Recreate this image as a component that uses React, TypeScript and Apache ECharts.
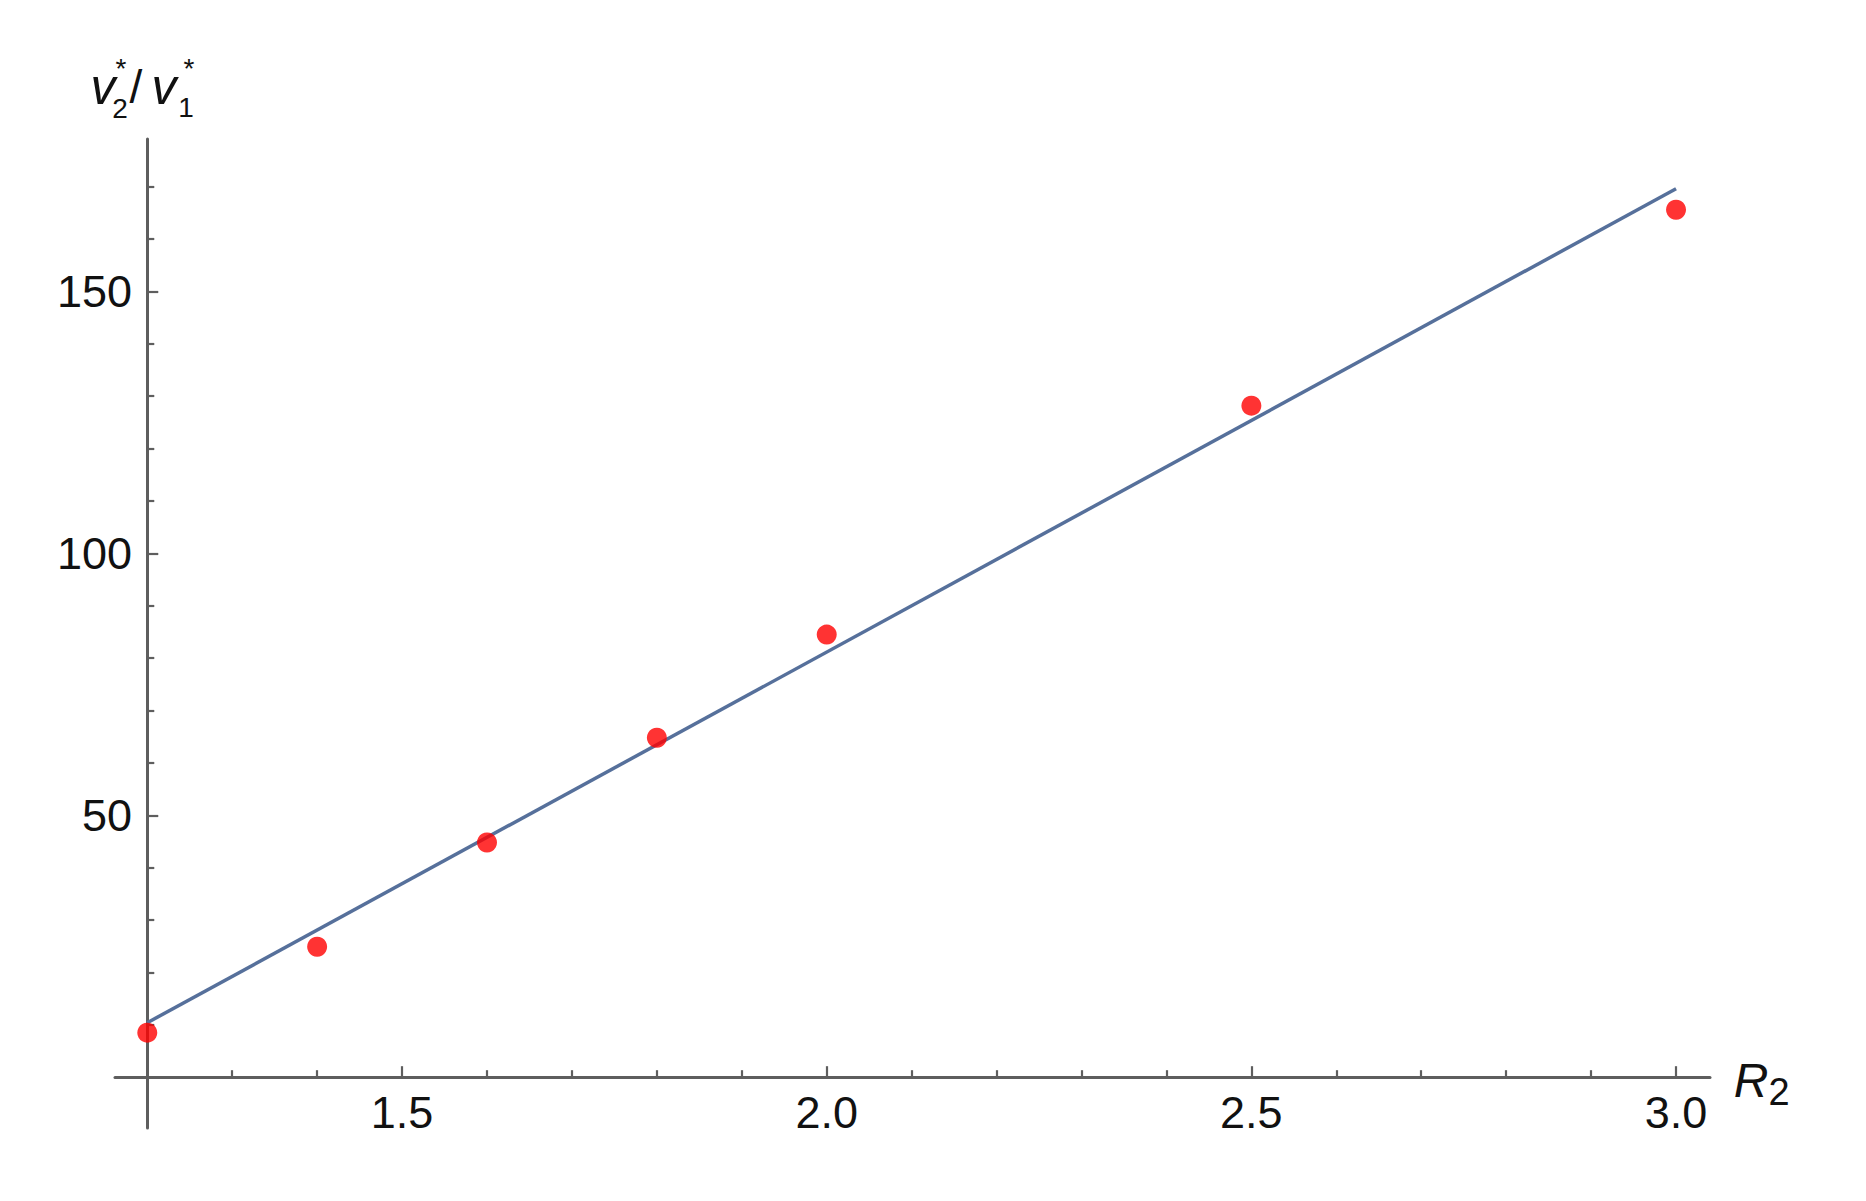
import React, { useEffect, useRef } from "react";
import * as echarts from "echarts";

// ---- data ----
const r2Values = [1.2, 1.4, 1.6, 1.8, 2.0, 2.5, 3.0];
const ratioValues = [8.5, 24.9, 44.8, 64.8, 84.5, 128.2, 165.6];
const fitX = [1.2, 3.0];
const fitY = [10.4, 169.6];
const xMajorTicks = [1.5, 2.0, 2.5, 3.0];
const xMinorTicks = [1.3, 1.4, 1.6, 1.7, 1.8, 1.9, 2.1, 2.2, 2.3, 2.4, 2.6, 2.7, 2.8, 2.9];
const yMajorTicks = [50, 100, 150];
const yMinorTicks = [10, 20, 30, 40, 60, 70, 80, 90, 110, 120, 130, 140, 160, 170];
const xRange = [1.162, 3.04];
const yRange = [-9.7, 179.1];
const yAxisCrossX = 1.2;

const FONT = "'Liberation Sans', Arial, sans-serif";
const AXIS_COLOR = "#5e5e5e";
const TEXT_COLOR = "#111111";

export default function App() {
  const ref = useRef<HTMLDivElement>(null);

  useEffect(() => {
    if (!ref.current) return;
    const chart = echarts.init(ref.current, null, { renderer: "svg" });

    const pts = r2Values.map((x, i) => [x, ratioValues[i]]);
    const fit = fitX.map((x, i) => [x, fitY[i]]);

    const majorX = {
      type: "value",
      min: xRange[0],
      max: xRange[1],
      position: "bottom",
      axisLine: { show: true, onZero: true, onZeroAxisIndex: 0, lineStyle: { color: AXIS_COLOR, width: 3 } },
      axisTick: { show: true, inside: true, length: 11, customValues: xMajorTicks, lineStyle: { color: AXIS_COLOR, width: 2.2 } },
      axisLabel: {
        show: true,
        customValues: xMajorTicks,
        formatter: (v: number) => v.toFixed(1),
        fontFamily: FONT,
        fontSize: 45,
        color: TEXT_COLOR,
        margin: -38,
      },
      splitLine: { show: false },
    };
    const helperX = {
      type: "value",
      show: false,
      min: xRange[0] - yAxisCrossX,
      max: xRange[1] - yAxisCrossX,
      position: "bottom",
      splitLine: { show: false },
    };
    const minorX = {
      type: "value",
      min: xRange[0],
      max: xRange[1],
      position: "bottom",
      axisLine: { show: false, onZero: true, onZeroAxisIndex: 0 },
      axisTick: { show: true, inside: true, length: 7, customValues: xMinorTicks, lineStyle: { color: AXIS_COLOR, width: 2.2 } },
      axisLabel: { show: false },
      splitLine: { show: false },
    };
    const majorY = {
      type: "value",
      min: yRange[0],
      max: yRange[1],
      position: "left",
      axisLine: { show: true, onZero: true, onZeroAxisIndex: 1, lineStyle: { color: AXIS_COLOR, width: 3 } },
      axisTick: { show: true, inside: true, length: 11, customValues: yMajorTicks, lineStyle: { color: AXIS_COLOR, width: 2.2 } },
      axisLabel: {
        show: true,
        customValues: yMajorTicks,
        formatter: (v: number) => String(Math.round(v)),
        fontFamily: FONT,
        fontSize: 45,
        color: TEXT_COLOR,
        margin: -17,
      },
      splitLine: { show: false },
    };
    const minorY = {
      type: "value",
      min: yRange[0],
      max: yRange[1],
      position: "left",
      axisLine: { show: false, onZero: true, onZeroAxisIndex: 1 },
      axisTick: { show: true, inside: true, length: 7, customValues: yMinorTicks, lineStyle: { color: AXIS_COLOR, width: 2.2 } },
      axisLabel: { show: false },
      splitLine: { show: false },
    };

    const italic = (text: string, x: number, y: number, size: number) => ({
      type: "text",
      x,
      y,
      style: {
        text,
        fontFamily: FONT,
        fontStyle: "italic",
        fontSize: size,
        fill: TEXT_COLOR,
        align: "center",
        verticalAlign: "middle",
      },
    });
    const plain = (text: string, x: number, y: number, size: number) => ({
      type: "text",
      x,
      y,
      style: {
        text,
        fontFamily: FONT,
        fontSize: size,
        fill: TEXT_COLOR,
        align: "center",
        verticalAlign: "middle",
      },
    });

    chart.setOption({
      animation: false,
      backgroundColor: "#ffffff",
      grid: {
        left: 115,
        right: 156,
        top: 139,
        bottom: 73,
        outerBoundsMode: "none",
        containLabel: false,
      },
      xAxis: [majorX, helperX, minorX],
      yAxis: [majorY, minorY],
      graphic: [
        italic("v", 103, 87, 50),
        plain("*", 121, 68, 28),
        plain("2", 120, 108, 28),
        plain("/", 136, 87, 46),
        italic("v", 164, 87, 50),
        plain("*", 189, 68, 28),
        plain("1", 186, 107, 28),
        italic("R", 1751, 1080, 48),
        plain("2", 1779, 1092, 38),
      ],
      series: [
        {
          type: "line",
          xAxisIndex: 0,
          yAxisIndex: 0,
          data: fit,
          showSymbol: false,
          symbol: "none",
          lineStyle: { color: "#56709b", width: 3.5 },
          z: 3,
        },
        {
          type: "scatter",
          xAxisIndex: 0,
          yAxisIndex: 0,
          data: pts,
          symbol: "circle",
          symbolSize: 20,
          itemStyle: { color: "#ff0000" },
          z: 4,
        },
      ],
    });

    return () => chart.dispose();
  }, []);

  return (
    <div
      ref={ref}
      style={{ position: "absolute", left: 0, top: 0, width: 1866, height: 1201, background: "#fff" }}
    />
  );
}
